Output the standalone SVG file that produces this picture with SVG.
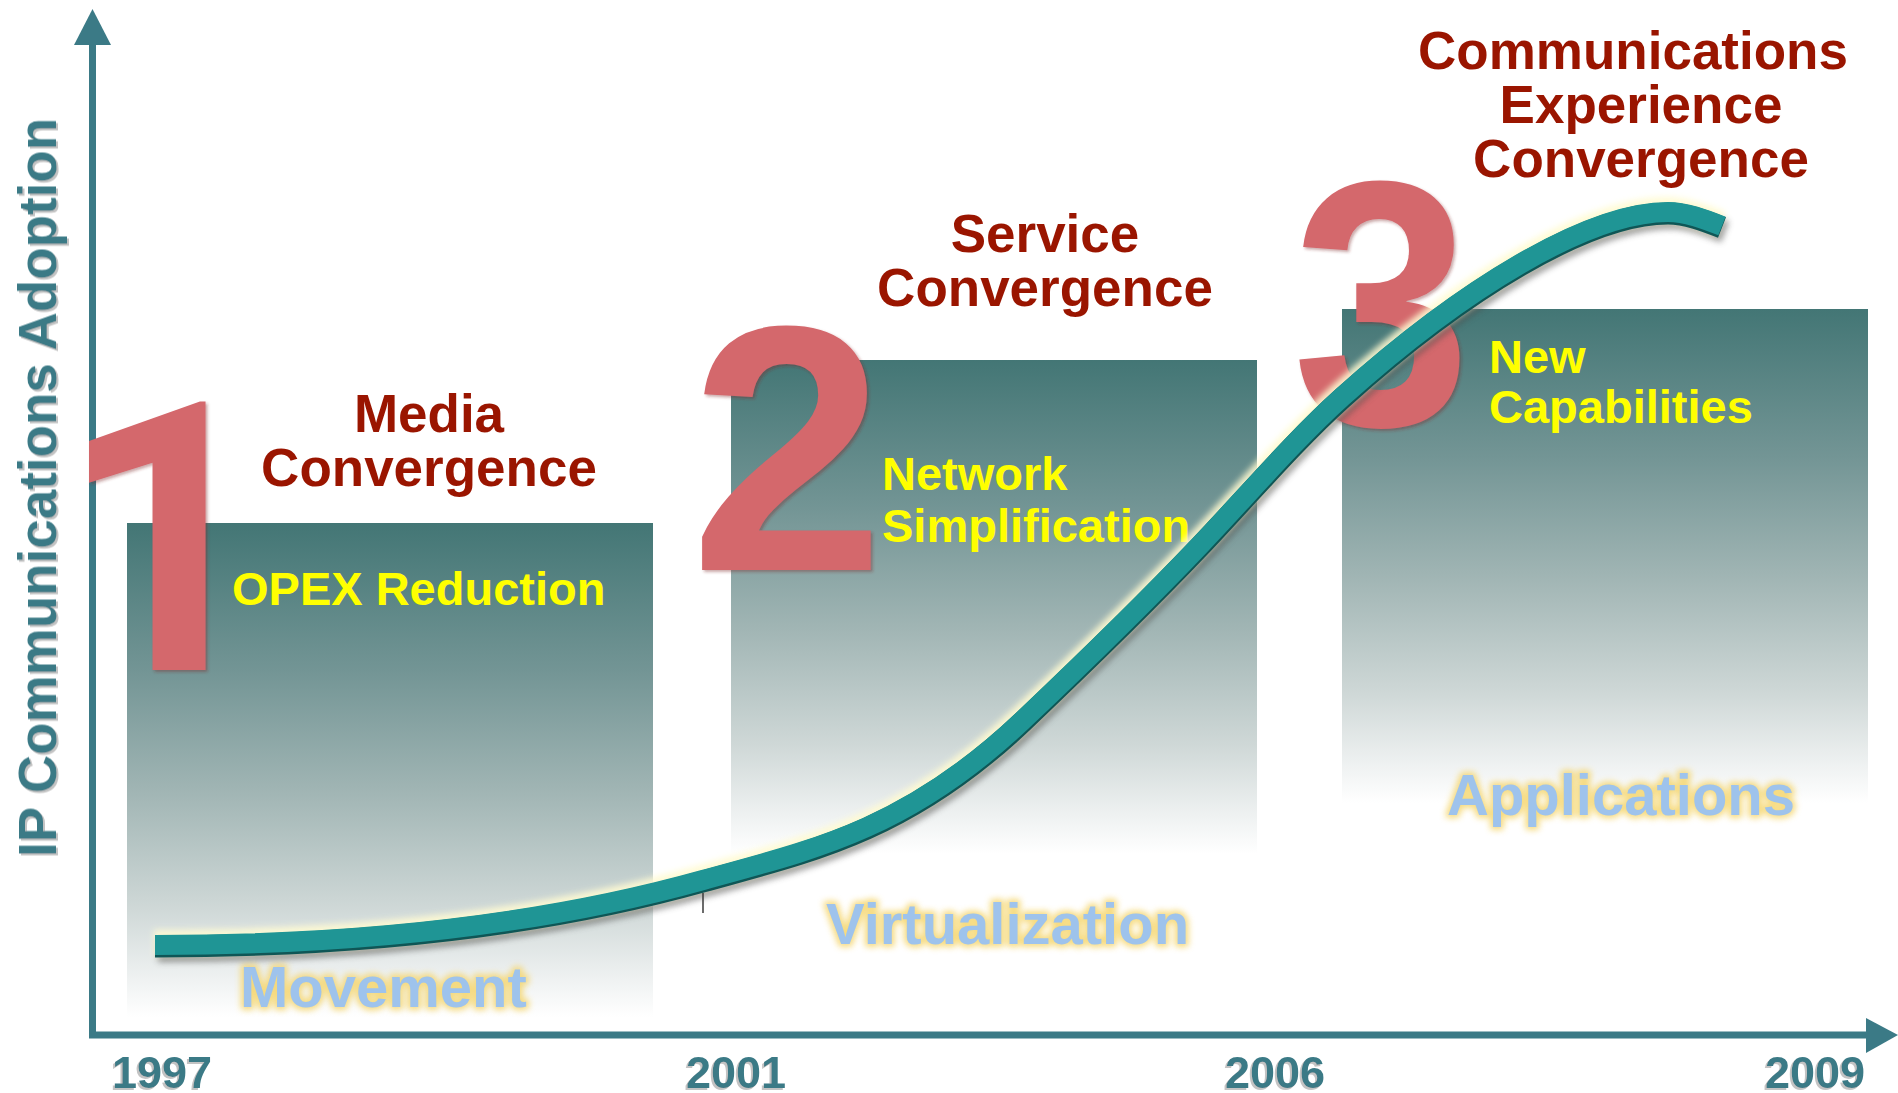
<svg xmlns="http://www.w3.org/2000/svg" width="1898" height="1093" viewBox="0 0 1898 1093">
<defs>
  <linearGradient id="boxGrad" x1="0" y1="0" x2="0" y2="1">
    <stop offset="0" stop-color="#437675"/>
    <stop offset="0.3" stop-color="#739595"/>
    <stop offset="0.55" stop-color="#a2b6b5"/>
    <stop offset="0.78" stop-color="#cfd8d7"/>
    <stop offset="0.92" stop-color="#eef1f1"/>
    <stop offset="1" stop-color="#ffffff"/>
  </linearGradient>
  <filter id="glowBlur" x="-10%" y="-40%" width="120%" height="180%">
    <feGaussianBlur stdDeviation="3"/>
  </filter>
  <filter id="ribbonShadow" x="-5%" y="-10%" width="110%" height="120%">
    <feGaussianBlur stdDeviation="3"/>
  </filter>
  <filter id="numShadow" x="-10%" y="-10%" width="130%" height="130%">
    <feDropShadow dx="2" dy="2" stdDeviation="1.5" flood-color="#7a2a2a" flood-opacity="0.4"/>
  </filter>
  <filter id="textShadow" x="-10%" y="-10%" width="120%" height="130%">
    <feDropShadow dx="-2" dy="2" stdDeviation="0.6" flood-color="#bdbdbd" flood-opacity="0.9"/>
  </filter>
  <path id="ribbonPath" d="M155,945 C380,945 560,920 703,880 C758,864.6 812,851.75 867,827 C919,803.6 971,769.4 1023,720 C1082,664 1141,607 1200,545 C1247,495.6 1295,439.3 1342,397 C1462,289 1588,212 1668,212 C1686,212 1704,219 1722,226"/>
</defs>
<style>
  .t{font-family:"Liberation Sans",Arial,Helvetica,sans-serif;font-weight:bold}
  .title{fill:#9a1500;font-size:53px;text-anchor:middle}
  .yel{fill:#ffff00;font-size:47px}
  .blue{fill:#9ec3ec;font-size:58px}
  .glow{fill:#f5d56c;stroke:#f5d56c;stroke-width:6;stroke-linejoin:round;font-size:58px;opacity:0.85}
  .num{fill:#d4676c}
  .one{font-family:Roboto,"Noto Sans",sans-serif;font-weight:bold}
  .axisTxt{fill:#3b7a86}
  .year{font-size:45px}
  .box{fill:url(#boxGrad)}
  .axisLine{stroke:#3b7a86;stroke-width:7;fill:none}
  .arrow{fill:#3b7a86}
</style>

<!-- boxes -->
<g id="box1"><rect class="box" x="127" y="523" width="526" height="494"/></g>
<g id="box2"><rect class="box" x="731" y="360" width="526" height="494"/></g>
<g id="box3"><rect class="box" x="1342" y="309" width="526" height="494"/></g>

<!-- axes -->
<g id="axes">
  <path class="axisLine" d="M92.5,1035 L92.5,40 M89,1035 L1870,1035"/>
  <polygon class="arrow" points="92.5,9 74,45 111,45"/>
  <polygon class="arrow" points="1898,1035 1866,1018 1866,1053"/>
  <text class="t axisTxt" filter="url(#textShadow)" font-size="53" text-anchor="middle" transform="translate(56,487.5) rotate(-90)">IP Communications Adoption</text>
  <g class="t axisTxt year" filter="url(#textShadow)">
    <text x="112" y="1088">1997</text>
    <text x="686" y="1088">2001</text>
    <text x="1225" y="1088">2006</text>
    <text x="1765" y="1088">2009</text>
  </g>
</g>

<!-- stage numbers -->
<g id="num1"><text class="one num" filter="url(#numShadow)" x="58" y="670" font-size="377">1</text></g>
<g id="num2"><text class="t num" filter="url(#numShadow)" x="690" y="570" font-size="350">2</text></g>
<g id="num3"><text class="t num" filter="url(#numShadow)" transform="translate(1292,425) scale(0.92,1)" x="0" y="0" font-size="350">3</text></g>

<!-- stage 1 -->
<g id="stage1">
  <text class="t title" x="429" y="432">Media</text>
  <text class="t title" x="429" y="486">Convergence</text>
  <text class="t yel" x="232" y="605" font-size="46">OPEX Reduction</text>
  <text class="t glow" x="240" y="1007" filter="url(#glowBlur)">Movement</text>
  <text class="t blue" x="240" y="1007">Movement</text>
</g>

<!-- stage 2 -->
<g id="stage2">
  <text class="t title" x="1045" y="252">Service</text>
  <text class="t title" x="1045" y="306">Convergence</text>
  <text class="t yel" x="882" y="490">Network</text>
  <text class="t yel" x="882" y="542">Simplification</text>
  <text class="t glow" x="826" y="944" font-size="59" filter="url(#glowBlur)">Virtualization</text>
  <text class="t blue" x="826" y="944" font-size="59">Virtualization</text>
</g>

<!-- stage 3 -->
<g id="stage3">
  <text class="t title" x="1633" y="69">Communications</text>
  <text class="t title" x="1641" y="123">Experience</text>
  <text class="t title" x="1641" y="177">Convergence</text>
  <text class="t yel" x="1489" y="373">New</text>
  <text class="t yel" x="1489" y="423">Capabilities</text>
  <text class="t glow" x="1447" y="815" filter="url(#glowBlur)">Applications</text>
  <text class="t blue" x="1447" y="815">Applications</text>
</g>

<!-- adoption curve -->
<g id="connectors">
  <use href="#ribbonPath" transform="translate(3,6)" fill="none" stroke="#4a4a4a" stroke-width="22" opacity="0.55" filter="url(#ribbonShadow)"/>
  <use href="#ribbonPath" transform="translate(-1,-2)" fill="none" stroke="#fffbd2" stroke-width="26" opacity="0.9" filter="url(#glowBlur)"/>
  <use href="#ribbonPath" transform="translate(0,1.5)" fill="none" stroke="#0f5656" stroke-width="22"/>
  <use href="#ribbonPath" fill="none" stroke="#1f9595" stroke-width="20"/>
  <line x1="703" y1="893" x2="703" y2="913" stroke="#3a3a3a" stroke-width="1.5"/>
</g>
</svg>
